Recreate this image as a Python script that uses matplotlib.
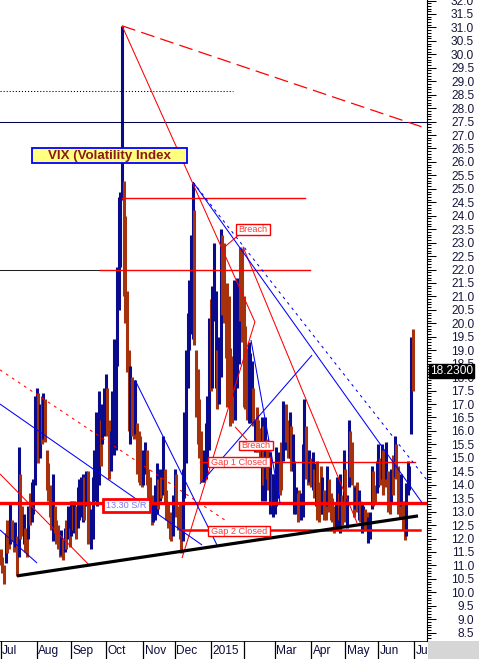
import numpy as np
import matplotlib
matplotlib.use("Agg")
import matplotlib.pyplot as plt
from matplotlib.patches import Rectangle
from matplotlib.ticker import MultipleLocator, FormatStrFormatter
from matplotlib.transforms import blended_transform_factory

plt.rcParams['font.family'] = ['Liberation Sans', 'DejaVu Sans']
plt.rcParams['lines.scale_dashes'] = False

# month boxes on the time axis (Feb has an empty box in the original)
month_labels = ["Jul", "Aug", "Sep", "Oct", "Nov", "Dec", "2015", "", "Mar", "Apr", "May", "Jun", "Jul"]
month_days = [22, 21, 21, 23, 19, 22, 20, 19, 22, 21, 20, 22]

# daily VIX bars, one line per month (Jul 2014 .. Jun 2015)
highs = [
    11.6, 11.3, 11.0, 12.2, 12.7, 12.4, 13.3, 12.7, 12.3, 12.6, 12.1, 15.4, 14.4, 13.2, 12.9, 12.4, 12.1, 13.2, 13.7, 14.1, 14.2, 17.3,
    17.6, 17.4, 17.0, 17.3, 17.4, 17.2, 15.3, 14.8, 14.0, 13.4, 14.4, 13.2, 12.7, 12.5, 12.1, 12.3, 12.0, 12.4, 12.7, 13.2, 12.4,
    13.4, 13.2, 13.4, 13.2, 13.9, 14.2, 14.3, 14.4, 14.3, 14.5, 14.5, 13.4, 13.1, 14.3, 15.3, 16.7, 16.2, 17.5, 16.4, 17.0, 17.6,
    18.1, 17.6, 16.4, 16.0, 17.5, 19.4, 18.9, 22.1, 24.7, 24.9, 31.06, 25.3, 24.0, 21.2, 19.0, 18.4, 18.0, 17.5, 17.9, 16.3, 16.0, 15.8, 15.2,
    15.3, 15.6, 15.3, 14.6, 14.3, 13.6, 13.3, 14.0, 14.8, 14.2, 14.6, 14.3, 15.8, 14.6, 13.8, 13.3, 13.0, 12.6, 13.6,
    14.6, 14.4, 13.2, 13.3, 12.6, 14.6, 16.7, 19.0, 20.4, 21.6, 23.3, 25.2, 24.2, 19.0, 18.3, 17.2, 16.0, 15.2, 15.3, 16.3, 17.3, 20.2,
    20.9, 21.4, 23.0, 21.2, 19.0, 19.5, 23.5, 23.3, 23.0, 21.4, 21.5, 21.0, 19.1, 18.8, 21.6, 20.1, 21.7, 21.6, 22.85, 22.8,
    21.0, 19.9, 19.1, 19.3, 18.9, 18.6, 17.6, 16.4, 16.9, 16.4, 16.1, 16.5, 16.2, 16.5, 15.7, 15.3, 15.2, 14.4, 14.4,
    14.0, 15.4, 15.2, 14.8, 15.6, 17.1, 16.9, 17.0, 16.4, 16.7, 16.2, 15.9, 14.9, 13.9, 13.7, 13.8, 13.7, 15.5, 17.2, 16.2, 15.2, 15.3,
    15.0, 15.2, 14.6, 14.8, 14.9, 14.1, 14.7, 14.3, 13.8, 13.6, 14.7, 14.2, 13.7, 13.5, 13.2, 13.3, 14.3, 13.7, 14.4, 13.6, 15.3,
    14.6, 13.6, 16.4, 16.0, 15.6, 14.0, 13.9, 14.1, 13.8, 13.4, 13.3, 13.2, 13.1, 13.0, 12.8, 13.0, 14.7, 14.5, 14.0, 14.9,
    15.5, 15.0, 15.5, 15.3, 14.9, 15.6, 14.5, 13.9, 14.6, 15.1, 15.8, 15.5, 14.7, 14.2, 14.4, 13.4, 13.0, 14.05, 14.9, 14.7, 19.5, 19.8,
]
lows = [
    11.0, 10.7, 10.3, 11.1, 11.45, 11.6, 11.8, 11.9, 11.5, 11.7, 10.61, 11.3, 12.0, 12.1, 11.8, 11.5, 11.3, 12.0, 12.5, 12.6, 12.9, 14.0,
    15.2, 14.8, 15.0, 15.5, 15.7, 15.6, 13.8, 13.4, 12.8, 12.3, 11.9, 12.2, 11.8, 11.6, 11.3, 11.4, 11.2, 11.5, 11.6, 12.0, 11.7,
    12.1, 12.3, 12.2, 12.0, 12.4, 12.7, 12.8, 12.6, 12.7, 13.2, 11.8, 12.3, 11.6, 12.0, 13.4, 14.3, 13.2, 14.0, 14.7, 15.5, 15.8,
    16.2, 15.8, 14.2, 14.5, 15.3, 15.1, 15.3, 18.4, 20.5, 22.1, 24.6, 21.0, 20.0, 18.2, 16.0, 15.5, 15.8, 15.7, 15.9, 14.4, 14.1, 14.0, 13.9,
    14.0, 14.4, 14.0, 13.5, 13.0, 12.5, 12.6, 12.7, 12.9, 13.1, 13.4, 13.5, 13.6, 13.3, 12.7, 12.4, 12.0, 11.9, 12.1,
    13.0, 12.8, 12.3, 12.0, 11.45, 11.9, 13.5, 14.8, 17.6, 19.0, 19.6, 19.4, 19.2, 16.5, 15.5, 15.0, 14.1, 14.1, 14.1, 14.2, 15.0, 15.3,
    17.5, 17.6, 20.1, 17.6, 16.8, 17.0, 18.0, 20.3, 20.0, 18.7, 16.9, 17.7, 16.2, 16.3, 17.3, 16.4, 17.6, 18.5, 20.1, 19.3,
    16.9, 16.8, 16.4, 16.3, 16.3, 16.7, 16.2, 15.2, 15.2, 15.2, 14.8, 13.4, 14.0, 13.4, 14.2, 13.8, 12.9, 13.2, 12.8,
    12.9, 13.2, 13.5, 13.6, 13.8, 14.9, 15.3, 15.6, 15.0, 15.0, 14.5, 14.5, 12.9, 12.9, 12.6, 12.9, 12.7, 12.8, 14.9, 14.2, 14.0, 14.1,
    13.9, 13.8, 13.5, 13.2, 12.7, 12.6, 12.9, 12.9, 12.7, 12.7, 13.2, 13.0, 12.7, 12.6, 12.2, 12.3, 12.3, 12.7, 12.2, 12.5, 13.4,
    12.6, 12.4, 13.9, 14.3, 14.0, 12.8, 13.1, 13.0, 12.7, 12.6, 12.2, 12.4, 12.3, 12.4, 11.85, 12.0, 13.1, 13.2, 13.3, 13.7,
    13.9, 14.0, 14.2, 13.6, 13.9, 14.2, 13.0, 12.9, 13.3, 13.6, 14.3, 14.2, 12.9, 12.8, 13.2, 12.3, 11.95, 12.1, 13.6, 13.8, 15.9, 17.5,
]
# 1 = up bar (blue), 0 = down bar (brown)
ups = [
    0, 0, 0, 1, 0, 0, 1, 0, 0, 1, 0, 1, 0, 0, 1, 0, 0, 1, 0, 1, 1, 1,
    1, 0, 1, 0, 1, 0, 0, 0, 0, 0, 1, 0, 0, 0, 0, 1, 0, 1, 0, 1, 0,
    1, 0, 1, 0, 1, 1, 1, 1, 0, 1, 0, 0, 1, 1, 1, 1, 1, 1, 0, 1, 1,
    1, 0, 0, 1, 1, 1, 1, 1, 1, 1, 1, 0, 0, 0, 0, 1, 0, 0, 1, 0, 0, 0, 0,
    1, 1, 0, 0, 0, 0, 1, 1, 1, 0, 1, 0, 1, 0, 0, 0, 0, 0, 1,
    1, 0, 0, 0, 0, 1, 1, 1, 1, 1, 1, 1, 0, 0, 0, 0, 0, 0, 1, 1, 1, 1,
    0, 1, 1, 1, 0, 1, 1, 0, 0, 0, 0, 0, 0, 0, 1, 1, 1, 1, 0, 0,
    0, 0, 0, 1, 1, 1, 0, 1, 0, 0, 0, 1, 0, 1, 0, 0, 1, 0, 1,
    1, 1, 1, 0, 0, 1, 1, 0, 0, 1, 0, 1, 1, 1, 0, 0, 1, 1, 1, 0, 0, 1,
    0, 1, 0, 1, 0, 0, 0, 1, 0, 0, 1, 0, 0, 0, 0, 1, 1, 0, 1, 0, 1,
    0, 1, 1, 0, 0, 0, 1, 0, 1, 0, 1, 1, 0, 0, 1, 1, 1, 0, 0, 1,
    1, 0, 1, 0, 0, 1, 0, 0, 1, 0, 1, 0, 0, 0, 1, 0, 0, 1, 1, 1, 1, 0,
]
last_close = 18.23

# drawn studies: (bar index, price) vertices
support_line = [(10.0, 10.61), (254.2, 12.84)]
top_dashed = [(74.0, 31.06), (259.7, 27.24)]
red_peak_line = [(74.0, 31.06), (154.9, 20.05), (110.5, 11.27)]
red_jan_line = [(147.6, 22.85), (217.1, 12.58)]
red_dotted = [(-0.35, 18.27), (138.5, 12.61)]
red_thin = [(-0.35, 14.40), (54.5, 10.98)]
blue_lines = [
    [(-0.35, 17.00), (122.7, 11.76)],
    [(-0.35, 12.32), (22.2, 11.09)],
    [(81.9, 17.89), (131.8, 11.76)],
    [(117.2, 25.25), (256.7, 13.33)],
    [(121.4, 14.03), (189.7, 18.82)],
    [(152.5, 19.38), (170.2, 13.32)],
]
blue_dotted = [(117.2, 25.25), (259.7, 14.17)]
breach_leaders = [
    [(135.6, 22.79), (144.8, 23.28)],
    [(142.8, 16.15), (150.1, 15.66)],
]

# horizontal levels: (price, start index, end index)
level_275 = (27.5, -0.35, 259.7)
level_dotted = (28.64, -0.35, 141.6)
level_2465 = (24.65, 74.0, 185.4)
level_22_black = (22.0, -0.35, 60.5)
level_22 = (22.0, 60.5, 188.4)
gap1_level = (14.84, 121.5, 252.4)
sr_level = (13.33, -0.35, 259.7)
gap2_level = (12.32, 110.3, 255.4)

BLUE = "#0a0a8c"
BROWN = "#a5320c"
RED = "#ff0000"

fig = plt.figure(figsize=(4.79, 6.59), dpi=100)
ax = fig.add_axes([0, 18 / 659, 427 / 479, 641 / 659])
ax.set_xlim(-0.35, 259.7)
ax.set_ylim(8.19, 32.02)

x = np.arange(len(highs))
colors = [BLUE if u else BROWN for u in ups]
ax.vlines(x, lows, highs, colors=colors, lw=2.2, capstyle="butt", zorder=2)


def draw(pts, color, lw=0.75, ls="-", z=3):
    xs, ys = zip(*pts)
    ax.plot(xs, ys, color=color, lw=lw, ls=ls, zorder=z, solid_capstyle="butt")


def hline(level, color, lw=0.75, ls="-"):
    y, x0, x1 = level
    ax.plot([x0, x1], [y, y], color=color, lw=lw, ls=ls, zorder=3)


hline(level_275, "#000050")
hline(level_dotted, "black", ls=(0, (0.8, 1.4)))
hline(level_2465, RED, lw=1.0)
hline(level_22_black, "#202020")
hline(level_22, RED, lw=1.0)
hline(gap1_level, RED, lw=1.0)
hline(sr_level, RED, lw=2.4)
hline(gap2_level, RED, lw=1.8)

draw(top_dashed, RED, lw=0.9, ls=(0, (10, 4.5)))
draw(red_peak_line, RED)
draw(red_jan_line, RED)
draw(red_dotted, RED, ls=(0, (2.0, 3.2)))
draw(red_thin, RED)
for pts in blue_lines:
    draw(pts, "#0000ff")
draw(blue_dotted, "#0000ff", ls=(0, (2.0, 3.0)))
for pts in breach_leaders:
    draw(pts, RED)
draw(support_line, "black", lw=2.3, z=4)


def box_label(x0, x1, y0, y1, text, fc="white", ec=RED, tc="#ff3c3c", fs=6.6, lw=1.0, bold=False):
    ax.add_patch(Rectangle((x0, y0), x1 - x0, y1 - y0, facecolor=fc, edgecolor=ec, lw=lw, zorder=6))
    ax.text((x0 + x1) / 2, (y0 + y1) / 2, text, ha="center", va="center", color=tc, fontsize=fs,
            fontweight="bold" if bold else "normal", zorder=7)


box_label(18.95, 113.35, 25.95, 26.51, "VIX (Volatility Index", fc="#ffff80", ec="#0000ff", tc="#8b1a1a", fs=9.6, lw=1.3, bold=True)
box_label(143.4, 164.1, 23.28, 23.69, "Breach")
box_label(145.4, 165.7, 15.29, 15.64, "Breach")
box_label(126.5, 164.1, 14.66, 15.02, "Gap 1 Closed")
box_label(126.5, 164.1, 12.09, 12.46, "Gap 2 Closed")
box_label(62.2, 91.0, 12.98, 13.46, "13.30 S/R", tc="#7878f0", lw=2.0)

# right price scale
for side in ["left", "top", "bottom"]:
    ax.spines[side].set_visible(False)
ax.spines["right"].set_linewidth(0.8)
ax.set_xticks([])
ax.yaxis.tick_right()
ax.yaxis.set_major_locator(MultipleLocator(0.5))
ax.yaxis.set_minor_locator(MultipleLocator(0.1))
ax.yaxis.set_major_formatter(FormatStrFormatter("%.1f"))
ax.tick_params(axis="y", which="major", length=6.5, width=0.75, pad=27.4, labelsize=8.6, labelcolor="#16163a")
ax.tick_params(axis="y", which="minor", length=3.0, width=0.75)
for lab in ax.get_yticklabels():
    lab.set_horizontalalignment("right")

tr = blended_transform_factory(ax.transAxes, ax.transData)
ax.text(1.007, last_close, f"{last_close:.4f}", transform=tr, ha="left", va="center", color="white", fontsize=8.6,
        bbox=dict(boxstyle="square,pad=0.12", fc="black", ec="black"), zorder=10, clip_on=False)

# time axis band
bax = fig.add_axes([0, 0, 427 / 479, 18 / 659])
bax.set_xlim(-0.35, 259.7)
bax.set_ylim(0, 1)
bax.axis("off")
bax.axhline(1, color="black", lw=1.2)
starts = np.concatenate([[0], np.cumsum(month_days)])
for s, lab in zip(starts, month_labels):
    bax.axvline(s, color="black", lw=0.9)
    bax.text(s + 1.0, 0.45, lab, ha="left", va="center", fontsize=8.6, color="#0c0c3c", clip_on=True)
fig.patches.append(Rectangle((428 / 479, 0), 51 / 479, 18 / 659, transform=fig.transFigure, facecolor="#d6d6d6",
                             edgecolor="none", figure=fig))

fig.savefig("out.png", dpi=100)
